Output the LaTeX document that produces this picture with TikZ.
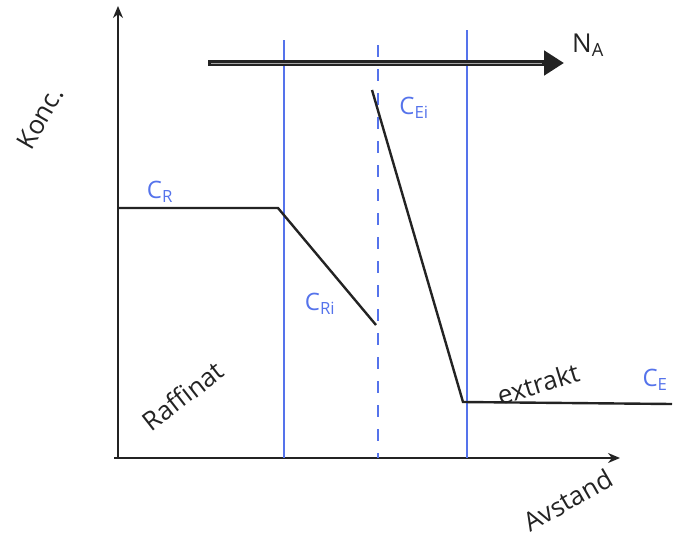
\documentclass[tikz,border=0pt]{standalone}
\usepackage{fontspec}
\setmainfont{Open Sans}
\usetikzlibrary{arrows.meta}
\definecolor{pen}{RGB}{35,35,35}
\definecolor{bluepen}{RGB}{85,115,235}
\tikzset{
  axis/.style={draw=pen, line width=2.4pt, -{Stealth[length=12pt,width=10pt]}},
  curve/.style={draw=pen, line width=2.4pt},
  phase/.style={draw=bluepen, line width=2.8pt},
  lbl/.style={font=\fontsize{26}{28}\selectfont, text=pen, inner sep=0pt},
  blbl/.style={font=\fontsize{24}{26}\selectfont, text=bluepen, inner sep=0pt},
}
\begin{document}
\begin{tikzpicture}[x=1pt,y=-1pt]
\useasboundingbox (0,0) rectangle (678,544);
% axes
\coordinate (o) at (118,458);
\coordinate (ytop) at (118,6);
\coordinate (xend) at (620,458);
\draw[axis] (o) -- (ytop);
\draw[axis] (114,458) -- (xend);
% phase boundaries
\coordinate (b1t) at (284,40); \coordinate (b1b) at (284,458);
\coordinate (b2t) at (467,30); \coordinate (b2b) at (467,458);
\coordinate (imt) at (378,45); \coordinate (imb) at (378,458);
\draw[phase] (b1t) -- (b1b);
\draw[phase] (b2t) -- (b2b);
\draw[phase, dash pattern=on 12pt off 12pt] (imt) -- (imb);
% flux arrow
\coordinate (na0) at (208,63);
\coordinate (na1) at (564,63);
\draw[draw=pen, line width=6pt, -{Triangle[length=20pt,width=24pt]}] (na0) -- (na1);
\draw[draw=gray!70, line width=1pt, shorten >=22pt, shorten <=3pt] (na0) -- (na1);
\node[lbl, anchor=west] (NA) at (572,45) {N\textsubscript{A}};
% raffinate concentration
\coordinate (r0) at (118,208);
\coordinate (r1) at (278,208);
\coordinate (r2) at (376,325);
\draw[curve] (r0) -- (r1) -- (r2);
% extract concentration
\coordinate (e0) at (372,90);
\coordinate (e1) at (463,402);
\coordinate (e2) at (672,404);
\draw[curve] (e0) -- (e1) -- (e2);
% labels
\node[lbl, rotate=60] (konc) at (40,118) {Konc.};
\node[blbl] (cr) at (160,192) {C\textsubscript{R}};
\node[blbl] (cri) at (320,304) {C\textsubscript{Ri}};
\node[blbl] (cei) at (414,108) {C\textsubscript{Ei}};
\node[blbl] (ce) at (655,380) {C\textsubscript{E}};
\node[lbl, rotate=38] (raff) at (183,396) {Raffinat};
\node[lbl, rotate=17] (ext) at (538,384) {extrakt};
\node[lbl, rotate=30] (avst) at (568,500) {Avstand};
\end{tikzpicture}
\end{document}
